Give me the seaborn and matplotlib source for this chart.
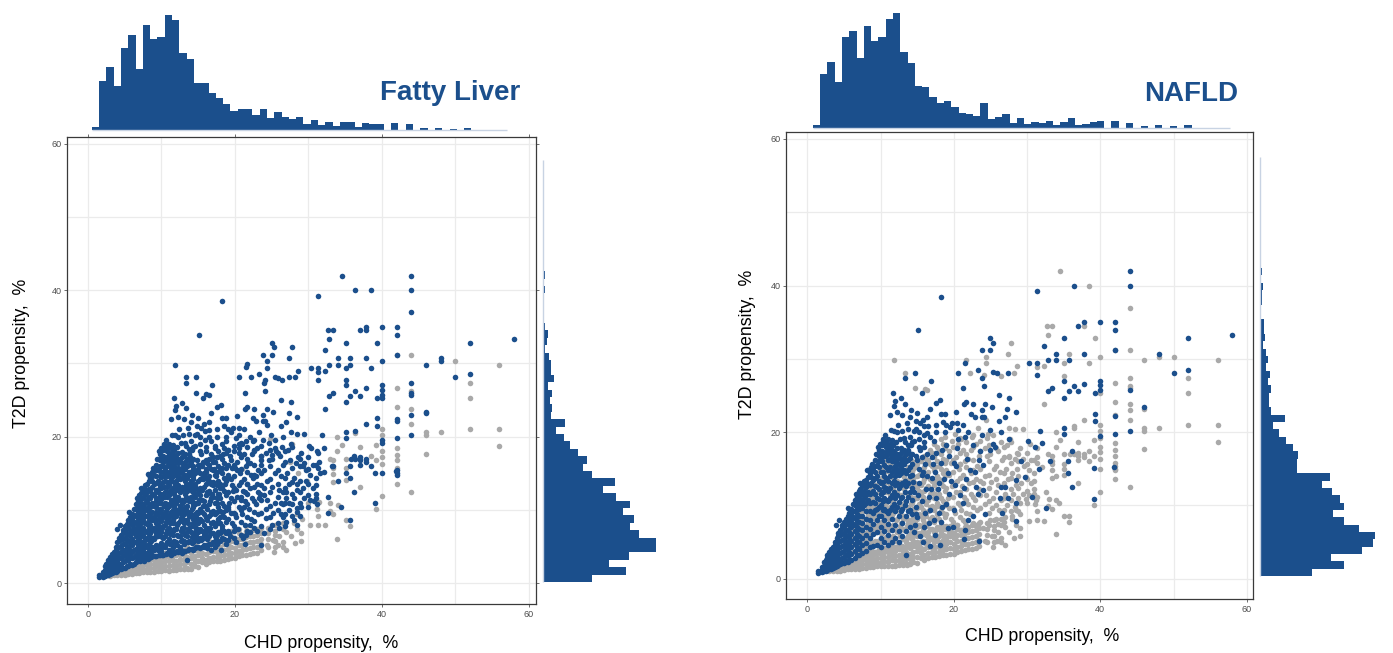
#!/usr/bin/python
# -*- coding:utf-8 -*-
import numpy as np
import pandas as pd
import matplotlib
matplotlib.use('Agg')
import matplotlib.pyplot as plt
from matplotlib.ticker import MultipleLocator
import seaborn as sns

W, H = 1393, 653
BLUE = '#1B4F8C'
GREY = '#A9A9A9'
TICKS = [0, 20, 40, 60]

# marginal histogram counts
chd_fatty = [8,146,188,131,245,284,182,314,272,278,344,329,230,212,140,140,110,95,77,56,
             62,62,44,62,35,53,38,32,38,17,29,14,23,11,23,23,8,20,17,17,0,20,0,17,0,5,0,5,0,2,0,5]
chd_nafld = [9,162,198,138,273,291,210,306,261,273,327,345,228,195,126,123,93,75,81,63,
             45,42,36,75,27,33,42,15,30,12,18,15,21,9,18,30,9,12,18,21,0,21,0,15,0,6,0,9,0,6,0,9]
t2d_fatty = [147,252,201,261,342,342,291,264,276,243,264,222,183,219,147,120,132,105,81,63,39,
             66,24,27,21,27,15,33,24,24,18,6,12,15,6,0,3,3,0,6,0,6]
t2d_nafld = [156,252,213,306,339,345,297,252,219,252,240,216,186,210,111,111,114,99,78,57,39,
             75,33,27,27,33,24,30,18,24,18,9,15,12,12,0,0,6,6,9,0,6]

# dense part of the cloud: (chd, [t2d values])
dense_both = [
    (1.5,[0.8,1.1]),(2,[0.9,1.2,1.6]),(2.5,[1.1,1.5,2,2.6]),(3,[1.3,1.8,2.4,3,3.6]),
    (3.5,[1.5,2.1,2.8,3.5,4.3]),(4,[1.7,2.4,3.1,3.9,4.8,5.6]),(4.5,[2,2.7,3.5,4.3,5.1,6,6.6]),
    (5,[2.1,3,3.8,4.6,5.4,6.2,7.1,7.8]),(5.5,[2.3,3.2,4.1,5,5.8,6.7,7.6,8.6]),
    (6,[2.5,3.4,4.3,5.2,6.1,7,7.9,8.8,9.5]),(6.5,[2.9,3.8,4.7,5.6,6.5,7.4,8.3,9.2,10.1,10.8]),
    (7,[3.2,4,5,5.9,6.8,7.7,8.6,9.5,10.4,11.4,12]),(7.5,[3.5,4.6,5.6,6.6,7.6,8.6,9.6,10.6,11.6,12.6]),
    (8,[3.8,4.9,6,7,8.1,9.2,10.3,11.4,12.5,13.5]),(8.5,[4.3,5.6,6.8,8,9.2,10.4,11.6,12.8,14.4]),
    (9,[4.5,6.1,7.5,9,10.5,12,13.5,14.8]),(9.5,[4.6,6.4,8,9.5,11,12.5,14,15.5]),
    (10,[4.4,5.5,7,8.5,10,11.5,13,14.5,16,17.2]),(10.5,[5,6.5,8,9.5,11,12.5,14,15.5,16.8]),
    (11,[4.6,6,7.5,9,10.6,12,13.4,14.8,16.2,17.5]),(11.5,[5,6.6,8.2,9.8,11.4,13,14.6,16,17.6]),
    (12,[5.6,7.4,9.2,11,12.8,14,15.4,16.6,17.2]),(12.5,[5,6.5,8.5,10.5,12.4,14.2,15.6,16.9]),
    (13,[5.8,7.6,9.5,11.2,13,14.8,16.2,17.4]),(13.5,[6.5,8.6,10.6,12.6,14.4,16,17]),
    (14,[7,9.4,11.8,14,15.2,16.5]),
    (2.25,[1,1.4,1.8,2.3]),(2.75,[1.2,1.7,2.2,2.9,3.2]),(3.25,[1.4,2,2.6,3.3,4]),(3.75,[1.6,2.3,3.1,3.8,4.6,5]),
    (4.25,[1.9,2.6,3.4,4.2,5,5.8,6.2]),(4.75,[2.1,2.9,3.7,4.5,5.3,6.1,6.9,7.3]),(5.25,[2.4,3.3,4.2,5,5.9,6.7,7.5,8.1]),
    (5.75,[2.7,3.7,4.6,5.5,6.4,7.3,8.2,9]),(6.25,[7.5,8.4,9.3,10.2]),(6.75,[3.3,4.3,5.2,6.1,7,7.9,8.8,9.7,10.6,11.2]),
    (7.25,[10,10.9,11.7,12.3]),(7.75,[10,11,12,12.9,13.4]),(8.25,[10.8,11.8,12.9,13.9,14.8]),(8.75,[13.1,13.9,14.7,15.2]),
    (9.25,[13.7,14.6,15.4,16.2]),(9.75,[15.3,16,16.8,17.6]),(10.25,[16,16.6,17.4,18.2]),(10.75,[16.7,17.3,18,18.8]),
    (11.25,[16.4,17,17.8,18.4]),(11.75,[16,16.8,17.4,18.2]),(12.25,[14.4,15,15.8,16.4,17,17.8]),(12.75,[15.8,16.4,17.2,17.9]),
    (13.25,[14.8,15.6,16.6,17.6]),(13.75,[16.2,17.6,18.3]),(14.25,[17,18.6]),
    (9.2,[9.4,10.4,11.6,12.6]),(9.8,[8.6,9.8,10.9,12.2,13.4]),(10.3,[9.4,10.6,11.8,13.2,14.6]),(10.8,[9.2,10.8,12.4,13.8,15.2]),
    (11.3,[9.4,11,12.4,14,15.2]),(11.8,[10.2,11.8,13.4,14.8]),(12.3,[9.8,11.4,13,14.6]),(12.8,[9.2,11,12.8,14.4,15.4]),
    (13.3,[10,11.8,13.4]),(13.8,[9.2,11.2,13,14.8]),(14.3,[8.8,10.8,12.4,14.2,15.6]),
]
dense_fatty = [
    (6.25,[2.6,3.6,4.6,5.7,6.8]),(7.25,[3.2,4.4,5.4,6.4,7.2,8.2,9.2]),(7.75,[3.4,4.2,5.2,6.2,7.2,8.2,9.2]),
    (8.25,[3.4,4.4,5.4,6.5,7.6,8.7,9.8]),(8.75,[3.9,5,6.2,7.4,8.6,9.8,11,12.2]),
    (9.25,[3.7,5.2,6.8,8.2,9.8,11.2,12.8]),(9.75,[3.9,5.2,7.2,8.8,10.2,11.8,13.2,14.6]),
    (10.25,[3.8,6.2,7.8,9.3,10.8,12.2,13.8,15.2]),(10.75,[4.1,5.7,7.3,8.8,10.3,11.8,13.2,14.7,16]),
    (11.25,[3.9,5.4,6.8,8.4,9.8,11.4,12.8,14.2,15.6]),(11.75,[4.2,5.8,7.4,9,10.6,12.2,13.8,15.2]),
    (12.25,[4.3,6.4,8.2,10,11.8,13.4]),(12.75,[4.2,5.9,7.6,9.5,11.4,13.2,15]),
    (13.25,[4.4,6.6,8.6,10.4,12.2,13.9]),(13.75,[4.7,5.8,7.6,9.6,11.6,13.5,15.2,16.8]),
    (14.25,[4.6,5.6,6.6,8.2,10.4,12.8,14.6,16]),(14.75,[4.9,6.4,7.6,9,11,13,15.2]),
    (15.25,[4.8,6.2,7.4,8.8,10.2,12,14.2,16.2]),(15.75,[5.2,6.6,8,9.4,11.2,13.2,15]),
    (16.25,[4.8,6,7.2,8.6,10.2,12.4,14.2,16.4]),(16.75,[5.4,6.8,8.2,9.8,11.6,13.6,15.6,17.6]),
    (17.25,[5,6.4,7.8,9.4,11,12.8,14.8,16.6,18.4]),(17.75,[5.6,7,8.8,10.4,12.2,14,16,18]),
    (18.25,[6.2,7.4,9.2,11,13,15,17,19]),(18.75,[5.4,6.8,8.4,10,12,14,15.8,17.8,19.4]),
    (7.1,[3,3.7,4.5]),(7.6,[3.1,4,4.9,5.8]),(8.1,[3.3,4.2,5.1,6.2]),(8.6,[3.6,4.7,5.8,7.1]),(9.1,[3.7,4.9,6.3,7.4,8.7]),
    (9.6,[3.8,5.1,6.6,7.4,8.9]),(10.1,[3.9,5,6.3,7.6,8.9]),(10.6,[4,5.3,6.9,8.4,9.9]),(11.1,[4,5.3,6.7,8.2,9.5]),
    (11.6,[4.3,5.7,7.1,8.7,10]),(12.1,[4.4,5.2,6.6,8,9.4]),(12.6,[4.5,5.8,7.2,8.9,10.2]),(13.1,[4.4,5.4,6.8,8.2,9.8]),
    (13.6,[4.6,5.6,7.2,8.2,9.8]),(14.1,[4.7,5.5,6.3,7.8,9,10.2,11.2,12.6,13.4]),(14.5,[4.8,5.9,7,8.2,9.5,10.8,12.2,13.6,15]),
    (15,[5,5.8,7,8.2,9.6,11,12.5,14,15.6]),(15.5,[5,6,7.2,8.5,9.8,11.4,12.8,14.4,16]),(16,[5.2,6.4,7.6,9,10.6,12,13.6,15.2,16.8]),
    (16.5,[5.4,6.4,7.6,9.2,10.8,12.6,14.6,16.2]),(17,[5.6,6.8,8.4,9.9,11.8,13.4,15.4,17.2]),(17.5,[5.3,6.6,8.2,9.8,11.6,13.4,15.2,17.2]),
    (18,[5.8,6.8,8.2,9.9,11.6,13.6,15.4,17.4]),(18.5,[6,7.2,9,10.6,12.6,14.4,16.4,18.4]),(19,[5.9,7.2,8.8,10.4,12.4,14.8,16.2,18.2]),
    (19.9,[6.2,7.8,9.6,11.2,13,14.6,16.2,18]),(20.8,[6.6,8.4,10,11.8,13.8,15.6,17.2,19.2]),(21.7,[7.2,9,10.8,12.2,13.6,15.2,17,18.6]),
    (22.6,[7.6,9.8,11.2,13.2,14.8,16.2,18,19.6]),(23.6,[7.8,9.6,11.4,13.4,15,17.4,18.8]),(24.8,[7.4,9,10.6,12.4,14.2,16,18.2]),
    (25.8,[8.2,10,11.8,13.6,15.4,17.8]),(26.8,[7.8,9.4,11,13,14.4,16.6,18]),(27.8,[9.2,10.8,12.2,13.8,15.8,18.6]),
    (28.8,[9.2,11,12.4,14,16,17]),(30,[10.4,12,13.6,15.6,17.2]),(31,[11.6,13.4,14.4,16.2]),
]
dense_grey = [
    (3,[1,1.2]),(4,[1.1,1.4,1.7]),(5,[1.2,1.5,1.9]),(6,[1.3,1.7,2.1]),(7,[1.4,1.8,2.3,2.8]),
    (8,[1.5,2,2.5,3]),(9,[1.6,2.1,2.6,3.2]),(10,[1.7,2.2,2.8,3.4,3.9]),(11,[1.7,2.3,3,3.6,4.2]),
    (12,[1.8,2.4,3.1,3.8,4.4]),(13,[2,2.6,3.2,3.9,4.5]),(14,[2,2.7,3.4,4.2]),(15,[2.2,3,3.8,4.4]),
    (16,[2.6,3.2,4]),(17,[3,3.6,4.4]),(18,[3.1,3.7,4.4,5]),(19,[3.3,4,4.7,5.4]),
    (20,[3.4,4.1,4.8,5.6,6.2]),(21,[3.8,4.5,5.2,6,6.6]),(22,[4,4.8,5.6,6.4,7]),
    (23,[4.2,5,5.8,6.6,7.4]),(24.5,[5,6,6.8,7.6]),
    (3.5,[1.1,1.3]),(4.5,[1.1,1.5,1.9]),(5.5,[1.3,1.7,2.1]),(6.5,[1.4,1.9,2.4]),(7.5,[1.5,2,2.5,3]),(8.5,[1.6,2.1,2.7,3.3]),
    (9.5,[1.7,2.3,2.9,3.5]),(10.5,[1.8,2.4,3,3.6,4.2]),(11.5,[1.8,2.5,3.2,3.9,4.5]),(12.5,[1.9,2.6,3.3,4,4.6]),
    (13.5,[2.1,2.9,3.6,4.4,5]),(14.5,[2.3,3,3.7,4.5,5.2]),(15.5,[2.9,3.5,4.2,5]),(16.5,[2.9,3.5,4.3,5.1,5.8]),
    (17.5,[3,3.6,4.3,5.1,5.8,6.4]),(18.5,[3.2,3.9,4.6,5.3,6,6.8]),(19.5,[3.4,4.2,5,5.8,6.5,7.2]),(20.5,[3.7,4.4,5.2,6,6.8,7.4]),
    (21.5,[3.9,4.7,5.5,6.3,7.1,7.8]),(22.5,[4.1,4.9,5.7,6.5,7.3]),(23.5,[4.5,5.3,6.1,6.9,7.6]),(25.5,[5,5.8,6.6,7.2,8]),
    (26.5,[5,5.6,7.4,8.2]),(28.5,[7.4,9.4]),
]

# sparser part: (chd, t2d)
sparse_both = [
    (44,42),(44,40),(36.4,40),(31.3,39.2),(18.3,38.5),(15.1,33.9),(58,33.3),(52,32.8),(25,32.8),(25.3,32.2),
    (23.8,31.2),(25,31.2),(32.3,31.8),(35.1,32.8),(37,34.5),(37.8,35),(40,35),(42,35),(42,33.9),(42,31.2),
    (34,30.7),(34,29.8),(35.7,29.8),(37.8,30.7),(32.8,29.8),(30.3,29.4),(31.3,29.4),(31.3,27.8),(27.4,28.1),
    (25.4,28.2),(25.9,28),(23.9,27.4),(24.1,26.3),(23.3,28.5),(21.5,29.5),(20.6,28.1),(21.3,26),(14.7,28.1),
    (13.4,27.4),(16.9,27),(15.6,25.3),(11.7,25.3),(52,28.5),(50,28.1),(48,30.7),(44,25.7),(44,20.2),(46,23.4),
    (40,27),(40,26.4),(40,25.7),(39.3,25.3),(37.8,26.6),(37,25.6),(36.4,26.3),(35.7,25.6),(35.1,27),(35.1,24.7),
    (33.4,26),(32.8,25.6),(39.3,22.5),(39.3,21.5),(42,22.2),(42,19.8),(40,19.5),(35.1,20.6),(35.1,19.8),(31.8,20.2),
    (17.6,24),(18.1,24.4),(16.7,23.2),(18.3,22.5),(18.8,22.5),(20.3,22.8),(21.4,23.8),(21.6,24.1),(22.6,23.8),
    (24.3,23.8),(25.2,23.4),(26.2,25),(27.6,24.7),(27.3,23.2),(28.5,22.7),(27,22),(26.2,21.5),(23.8,23),(22.4,22.5),
    (22.9,22.1),(23.8,22.1),(24.1,22.1),(21.2,21),(20.5,21.2),(19.7,21.2),(19,21),(18.5,21.4),(15.8,21.7),(15.4,21.2),
    (16.5,20.9),(17.6,20),(18.8,20),(19.5,20.7),(20.6,20.3),(21.5,19.4),(23.8,19.6),(24.9,20.3),(26.5,20),(27.6,19),
    (25.4,18.4),(25.6,18),(25,17.5),(23.5,16.2),(24,15.5),(22.2,14.8),(22.9,14.6),(29.2,16),(30.1,18.8),(31.1,18),
    (32.1,18.5),(33.2,16),(31.6,15),(29.7,13.9),(28.5,13.5),(27,12.5),(26.3,11),(27.4,11),(28.5,10.3),(30.7,11.2),
    (32.6,9.6),(28.5,7.9),(26.6,9),(24.2,8.9),(22.6,8.5),(22,8),(21.5,6.6),(19.9,7.1),(19.2,6.9),(21.4,5.4),(23.5,5.2),
    (18.1,4.6),(16.7,4.5),(15.8,5),(13.5,3.2),(35.6,16),(35.6,14.4),(36.2,12.5),(36.2,17.4),(39.1,15.1),(39.1,10.9),
    (41.9,15.3),(23.1,12.5),(23.3,11.6),(24,12.1),(26.5,12.5),(14.6,20.2),(13.2,19.2),(12.2,20),(11.4,20.3),(10.6,19.6),
    (12.4,21),(11.3,22.4),(12.2,22.7),(11.8,23.6),(13.3,23.9),(14,22),(14.8,20.4),(15.2,19),(16,18.6),(16.8,19.4),
    (14.2,18.2),(15.4,17.6),(16.4,17),(15,16.2),(17.2,15.6),(18.4,17.6),(19.4,16.8),(20.5,17.8),(15.8,14.6),(17,13.8),
    (18,13),(19.2,14.4),(20.3,15.4),(16.2,12.2),(17.6,11),(19.4,11.6),(20.2,12.8),(21.4,12.4),(15.6,10.6),(16.8,9.4),
    (18.4,9.8),(20,9.4),(21.2,10.4),(15,8.4),(16.6,7.6),(18.2,7.8),(14.6,6.4),(15.4,5.9),(17.4,6),(11,19),(9.6,18),
    (10.3,18.8),(10.8,18.4),(11.5,18.9),(12.1,18.6),(12.7,19.1),(13.4,18.7),(14,19.4),(14.6,18.8),(15.3,20),(15.9,19.6),
    (13.8,20.4),(12.9,20.2),(11.8,20.2),(10.4,19),(9.9,18.4),(16.4,19.9),(17.3,18.8),(15.9,20.8),(17.6,21),(16.4,22),
    (15,22.6),(14.2,23),(13,22.4),(12,24.2),(12.8,24.6),(13.6,21.2),(14.9,21.5),
    (14.7,7.4),(14.9,9.8),(15.1,11.4),(15.3,13),(15.6,14.2),(15.2,15),(14.8,16.8),(15.6,16.6),(16.1,15.6),(16.4,14),
    (16.6,11.2),(16.1,9),(15.9,7),(16.9,12.2),(17,16.6),(17.4,14.6),(17.8,12.2),(18,9),(17.3,8),(18.2,15.8),(18.6,13.6),
    (19,10.2),(19.6,13.4),(20,15.8),(20.8,11.4),(21.6,13.6),(21.8,16.4),(22.6,18.2),(23.6,17.4),(19,18.2),(20.6,19),
    (22,20),(17.6,17.2),(16,18),(15.2,18),(13.9,17.2),(14.4,13.2),(14.6,11.8),(14.8,8.8),
    (3.9,7.4),(4.4,8),(5.6,9.7),(6.6,11.6),(7.2,13),(8.2,14.9),(8.8,15.7),(9.4,17),
]
sparse_fatty = [
    (11.8,29.8),(13.3,28.1),(14.7,26),(16.1,25.9),(16.4,25.7),(22.2,28.1),(21.7,29.9),(24.4,30.3),(24.4,29.4),(27.8,32.2),
    (27.4,30.7),(28.6,29),(28.2,28.1),(26.4,27.7),(24.1,27.8),(31.3,28.9),(32.3,29),(32.8,33.3),(32.7,34.5),(33.4,34.5),
    (35.7,30.7),(35.1,29.4),(35.1,27.7),(37.8,34.5),(39.3,32.8),(40,30.3),(38.5,40),(34.5,42),(44,37),(38.5,29.4),
    (46,29.8),(48,30.3),(44,27.4),(44,26),(44,23),(46,23.2),(40,25.3),(32.3,23.8),(37.8,21.7),(36.4,20.8),(29.4,20.4),
    (40,19.2),(42,22.4),(42,15.4),(42,15),(42,14.8),(40,15),(38.5,16),(37.8,16.6),(37,16.8),(36.4,17),
    (19.3,6.4),(19.6,8.2),(19.4,9.6),(19.2,11),(19.7,12.6),(19.4,14.2),(19.6,15.8),(19.3,17.4),(19.8,18.8),
    (20.2,5.6),(20.4,7.4),(20.2,9),(20.6,10.4),(20.3,11.8),(20.5,13.4),(20.7,15),(20.3,16.6),(20.6,18.4),(20.2,19.8),
    (21.1,6.2),(21.3,8),(21,9.4),(21.4,11.2),(21.1,12.6),(21.2,14.2),(21.5,16),(21.2,17.6),(21,19),
    (22,7),(22.2,8.8),(21.9,10.2),(22.3,11.6),(22.1,13),(22.4,14.4),(22,16.4),(22.3,17.6),(22.5,19.4),
    (23,7.2),(23.2,9.4),(22.9,10.8),(23.4,12.2),(23,13.6),(23.2,15.4),(23.5,16.8),(23,18.4),(23.3,20.6),
    (24,6.9),(24.2,10.2),(24.4,11.4),(24,13),(24.3,14),(24.6,16.8),(24.2,17.8),(24.6,19.2),(24.4,21.6),
    (25,8),(25.2,9.6),(25.4,11),(25.1,13.2),(25.5,15),(25,17),(25.4,19.6),
    (26,7.5),(26.2,9.4),(26.5,10.8),(26,12.8),(26.3,14.6),(26.6,16.2),(26.1,17.4),(26.4,18.6),
    (27,8.4),(27.3,10),(27,11.6),(27.4,13.6),(27.1,15),(27.5,16.8),(27.2,18.2),(27.6,20.6),
    (28,8.6),(28.4,9.8),(28.1,11.6),(28.5,12.8),(28,14.4),(28.3,16.4),(28.6,17.2),(28.4,20.4),
    (29,10.4),(29.4,11.6),(29.2,13),(29.6,15.4),(29,17.8),(29.4,16.4),
    (30.2,11.4),(30.6,13),(30.2,14.8),(30.6,16.2),(30.4,18.4),
    (31.2,10.8),(31,12.2),(31.3,15.8),(31.4,16.6),(31.3,17.8),
    (32.6,11.8),(32.1,15.2),(33.4,16),(34,14),(34.4,10.4),(35.7,8.6),(35.1,15),(35.8,17),(37,17.2),(37,16.2),(37.8,17),
]
sparse_grey = [
    (42,31.2),(44,31.2),(50,30.3),(56,29.8),(52,27.4),(52,25.3),(52,21),(56,21),(56,18.7),(42,26.7),(44,26.3),
    (42,24.1),(44,23.8),(44,21.7),(46,20.6),(46,20.2),(48,20.6),(46,17.7),(44,12.5),(40,21),(40,20.2),(40,18),
    (40,17.3),(40,16.3),(42,18.5),(42,17.5),(42,16.8),(42,15.8),(42,13.6),(40,11.9),(39.2,10.1),(37,13.1),
    (33.4,15.7),(33.4,14.9),(33.4,13.8),(35.1,15.7),(35.1,14.1),(33.9,20),(34.5,18.9),(33.9,18),(32.9,17),(33.4,16.8),
    (35.1,17),(37,18.6),(36.4,20.5),(38.5,17.4),(39.2,18.9),(39.2,16.8),(20.9,15.6),(24.7,19.7),(27.7,19),(27.5,16.6),
    (28.6,15),(29.8,13.9),(31.4,11.1),(31.1,10.2),(29.9,10.9),(33,10.9),(32.9,9.9),(34,10.7),(33.4,9.5),(31.3,9.2),
    (29.1,8.8),(30.2,7.9),(31.3,8),(32.3,7.9),(33.9,6.1),(35.1,8.6),(35.7,7.8),(29,6.9),(29,5.8),(28.2,5.5),(27,4.6),
    (25.3,4.3),(24.3,5.2),(25.9,5.2),(25.2,5.9),(27,7),(28,8.2),(26,6.4),(27.6,6.4),(13.1,1.9),(13.6,1.9),
]


def expand(rows):
    return [(x, y) for x, ys in rows for y in ys]


both = expand(dense_both) + sparse_both
fatty_only = expand(dense_fatty) + sparse_fatty
grey_all = expand(dense_grey) + sparse_grey


def frame(points):
    return pd.DataFrame(points, columns=['chd', 't2d'])


def px_axes(fig, left, top, right, bottom):
    return fig.add_axes([left / W, 1 - bottom / H, (right - left) / W, (bottom - top) / H])


def draw_panel(fig, title, blue_pts, grey_pts, box, top_box, side_box, xlim, ylim,
               top_counts, side_counts, top_start, top_width, side_start, side_width,
               top_end, side_end, title_xy, outer_ticks, xlab, ylab):
    ax = px_axes(fig, *box)
    sns.scatterplot(data=frame(grey_pts), x='chd', y='t2d', color=GREY, s=16, linewidth=0, ax=ax, zorder=3)
    sns.scatterplot(data=frame(blue_pts), x='chd', y='t2d', color=BLUE, s=16, linewidth=0, ax=ax, zorder=4)
    ax.set_xlim(*xlim)
    ax.set_ylim(*ylim)
    ax.set_xticks(TICKS)
    ax.set_yticks(TICKS)
    ax.xaxis.set_minor_locator(MultipleLocator(10))
    ax.yaxis.set_minor_locator(MultipleLocator(10))
    ax.grid(True, which='both', color='#ebebeb', lw=0.9)
    ax.set_axisbelow(True)
    ax.tick_params(which='minor', length=0)
    ax.tick_params(which='major', length=2, width=0.6, color='#555555', labelsize=6.5,
                   labelcolor='#4d4d4d', pad=2, bottom=True, left=True, top=outer_ticks, right=outer_ticks)
    for s in ax.spines.values():
        s.set_visible(True)
        s.set_color('#3a3a3a')
        s.set_linewidth(0.9)
    ax.set_xlabel('CHD propensity,  %', fontsize=12.8, color='black', x=xlab[0], labelpad=xlab[1])
    ax.set_ylabel('T2D propensity,  %', fontsize=12.8, color='black', y=ylab[0], labelpad=ylab[1])

    # marginal on top
    top_ax = px_axes(fig, *top_box)
    edges = top_start + top_width * np.arange(len(top_counts) + 1)
    centers = (edges[:-1] + edges[1:]) / 2
    top_ax.hlines(0, edges[0], top_end, color='#c8d3e3', lw=1, clip_on=False)
    sns.histplot(x=centers, weights=top_counts, bins=list(edges), color=BLUE, alpha=1, linewidth=0, ax=top_ax)
    top_ax.set_xlim(*xlim)
    top_ax.set_ylim(0, 345)
    top_ax.axis('off')

    # marginal on the right
    side_ax = px_axes(fig, *side_box)
    edges = side_start + side_width * np.arange(len(side_counts) + 1)
    centers = (edges[:-1] + edges[1:]) / 2
    side_ax.vlines(0, edges[0], side_end, color='#c8d3e3', lw=1, clip_on=False)
    sns.histplot(y=centers, weights=side_counts, bins=list(edges), color=BLUE, alpha=1, linewidth=0, ax=side_ax)
    side_ax.set_ylim(*ylim)
    side_ax.set_xlim(0, 345)
    side_ax.axis('off')

    fig.text(title_xy[0] / W, 1 - title_xy[1] / H, title, color=BLUE, fontsize=20, fontweight='bold',
             ha='right', va='baseline')


sns.set_style('white')
plt.rcParams['font.family'] = ['Liberation Sans', 'DejaVu Sans']

fig = plt.figure(figsize=(W / 100, H / 100), dpi=100)
draw_panel(fig, 'Fatty Liver', both + fatty_only, grey_all, (67, 137, 535.5, 604), (67, 15, 535.5, 129.7),
           (543, 137, 657, 604), (-2.86, 60.9), (-2.82, 60.9), chd_fatty, t2d_fatty,
           0.5, 0.994, 0.18, 1.01, 57, 57.7, (520, 100), True, (0.542, 11.5), (0.537, 15))
draw_panel(fig, 'NAFLD', both, grey_all + fatty_only, (786, 132.3, 1252.7, 599.3), (786, 13, 1252.7, 128),
           (1260, 132.3, 1375, 599.3), (-2.9, 60.8), (-2.8, 60.9), chd_nafld, t2d_nafld,
           0.77, 0.994, 0.37, 1.0, 57.7, 57.5, (1238, 101), False, (0.5486, 10), (0.545, 10))
fig.savefig('out.png', dpi=100)
